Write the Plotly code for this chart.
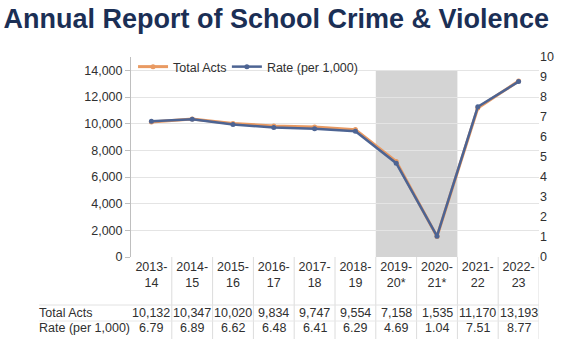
import plotly.graph_objects as go

categories = ["2013-14", "2014-15", "2015-16", "2016-17", "2017-18", "2018-19",
              "2019-20*", "2020-21*", "2021-22", "2022-23"]
cat_labels = ["2013-<br>14", "2014-<br>15", "2015-<br>16", "2016-<br>17", "2017-<br>18",
              "2018-<br>19", "2019-<br>20*", "2020-<br>21*", "2021-<br>22", "2022-<br>23"]
total_acts = [10132, 10347, 10020, 9834, 9747, 9554, 7158, 1535, 11170, 13193]
rate = [6.79, 6.89, 6.62, 6.48, 6.41, 6.29, 4.69, 1.04, 7.51, 8.77]
left_ticks = [0, 2000, 4000, 6000, 8000, 10000, 12000, 14000]
right_ticks = list(range(0, 11))

ORANGE = "#e99a62"
BLUE = "#4d6493"
TXT = "#303030"
FONT = "Liberation Sans, Arial, sans-serif"

x = list(range(len(categories)))

fig = go.Figure()
fig.add_trace(go.Scatter(x=x, y=total_acts, name="Total Acts", mode="lines+markers",
                         line=dict(color=ORANGE, width=3), marker=dict(size=5, color=ORANGE),
                         yaxis="y", legend="legend"))
fig.add_trace(go.Scatter(x=x, y=rate, name="Rate (per 1,000)", mode="lines+markers",
                         line=dict(color=BLUE, width=2.5), marker=dict(size=5, color=BLUE),
                         yaxis="y2", legend="legend2"))

shapes = []
# shaded COVID region
shapes.append(dict(type="rect", xref="x", yref="y", x0=5.5, x1=7.5, y0=0, y1=14000,
                   fillcolor="#d4d4d4", line=dict(width=0), layer="below"))
# table grid lines
for k in range(1, len(categories) + 1):
    shapes.append(dict(type="line", xref="x", yref="paper", x0=k - 0.5, x1=k - 0.5,
                       y0=0, y1=-0.42, line=dict(color="#dcdcdc", width=1)))
shapes.append(dict(type="line", xref="paper", yref="paper", x0=-0.225, x1=1.0,
                   y0=-0.24, y1=-0.24, line=dict(color="#e2e2e2", width=1)))
shapes.append(dict(type="line", xref="paper", yref="paper", x0=-0.225, x1=1.0,
                   y0=-0.32, y1=-0.32, line=dict(color="#e8e8e8", width=1)))

annotations = []
row_y = {"acts": -0.28, "rate": -0.355}
annotations.append(dict(text="Total Acts", xref="paper", yref="paper", x=-0.23, y=row_y["acts"],
                        xanchor="left", yanchor="middle", showarrow=False,
                        font=dict(size=12.5, color=TXT, family=FONT)))
annotations.append(dict(text="Rate (per 1,000)", xref="paper", yref="paper", x=-0.23, y=row_y["rate"],
                        xanchor="left", yanchor="middle", showarrow=False,
                        font=dict(size=12.5, color=TXT, family=FONT)))
for i, (a, r) in enumerate(zip(total_acts, rate)):
    annotations.append(dict(text=f"{a:,}", xref="x", yref="paper", x=i, y=row_y["acts"],
                            xanchor="center", yanchor="middle", showarrow=False,
                            font=dict(size=12.5, color=TXT, family=FONT)))
    annotations.append(dict(text=f"{r:.2f}", xref="x", yref="paper", x=i, y=row_y["rate"],
                            xanchor="center", yanchor="middle", showarrow=False,
                            font=dict(size=12.5, color=TXT, family=FONT)))

legend_common = dict(orientation="h", y=0.95, xanchor="left", yanchor="middle",
                     bgcolor="rgba(0,0,0,0)", font=dict(size=12.5, color=TXT, family=FONT),
                     itemwidth=30)

fig.update_layout(
    width=580, height=339,
    margin=dict(l=131, r=41, t=57, b=82),
    paper_bgcolor="white", plot_bgcolor="white",
    title=dict(text="<b>Annual Report of School Crime &amp; Violence</b>",
               x=0.006, xanchor="left", y=0.945, yanchor="middle",
               font=dict(size=27, color="#1b2f55", family=FONT)),
    font=dict(family=FONT, size=12, color=TXT),
    showlegend=True,
    legend=dict(x=0.005, **legend_common),
    legend2=dict(x=0.235, **legend_common),
    xaxis=dict(tickmode="array", tickvals=x, ticktext=cat_labels, range=[-0.5, 9.5],
               showgrid=False, zeroline=False, showline=False, ticks="",
               tickfont=dict(size=12.5, color=TXT)),
    yaxis=dict(range=[0, 15000], tickvals=left_ticks, ticktext=[f"{v:,}" for v in left_ticks],
               showgrid=True, gridcolor="#e4e4e4", gridwidth=1, zeroline=False,
               showline=True, linecolor="#bfbfbf", ticks="outside", ticklen=5,
               tickcolor="#bfbfbf", tickfont=dict(size=12.5, color=TXT)),
    yaxis2=dict(range=[0, 10], tickvals=right_ticks, overlaying="y", side="right",
                showgrid=False, zeroline=False, showline=False, ticks="",
                tickfont=dict(size=12.5, color=TXT)),
    shapes=shapes,
    annotations=annotations,
)

fig.write_html("out.html")
